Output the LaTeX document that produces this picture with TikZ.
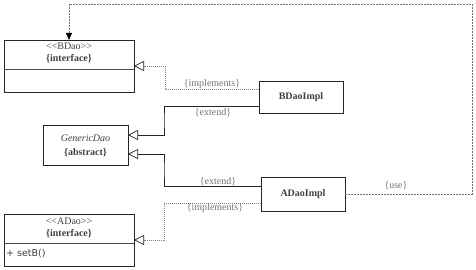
\documentclass[tikz,border=0pt]{standalone}
\usepackage{fontspec}
\setmainfont{Liberation Serif}
\newfontfamily\umlsans{DejaVu Sans}
\usetikzlibrary{arrows.meta}
\begin{document}
\begin{tikzpicture}[x=1pt,y=-1pt,
  classbox/.style={draw=black!85, line width=0.7pt, inner sep=0pt, outer sep=0pt},
  classline/.style={draw=black!70, line width=0.7pt},
  boxtxt/.style={text=black!75, font=\fontsize{10}{12}\selectfont, inner sep=0pt},
  lbl/.style={text=black!55, font=\fontsize{10}{12}\selectfont, inner sep=0pt},
  opentip/.style={-{Triangle[open, length=10pt, width=10pt, color=black!85, fill=white]}},
  realize/.style={opentip, draw=black!50, line width=0.7pt, dash pattern=on 0.8pt off 1.2pt},
  generalize/.style={opentip, draw=black!85, line width=0.7pt},
  usedep/.style={draw=black!55, line width=0.8pt, dash pattern=on 2pt off 1pt, -{Triangle[length=7pt, width=6pt, color=black]}}
]
\useasboundingbox (0,0) rectangle (476,270);

% BDao
\node[classbox, minimum width=130pt, minimum height=52pt] (bdao) at (69,66) {};
\draw[classline] (4,69) -- (134,69);
\node[boxtxt] (bdaost) at (69,46) {<\kern0pt<BDao>\kern0pt>};
\node[boxtxt] (bdaoif) at (69,59) {\textbf{\{interface\}}};

% GenericDao
\node[classbox, minimum width=85pt, minimum height=40pt] (generic) at (85.5,145) {};
\node[boxtxt] (genname) at (85.5,138) {\textit{GenericDao}};
\node[boxtxt] (genabs) at (85.5,153) {\textbf{\{abstract\}}};

% ADao
\node[classbox, minimum width=130pt, minimum height=52pt] (adao) at (69,240) {};
\draw[classline] (4,243) -- (134,243);
\node[boxtxt] (adaost) at (69,221) {<\kern0pt<ADao>\kern0pt>};
\node[boxtxt] (adaoif) at (69,234) {\textbf{\{interface\}}};
\node[boxtxt, anchor=west, font=\umlsans\fontsize{9.5}{11}\selectfont] (setb) at (6,254) {+ setB()};

% Impl classes
\node[classbox, minimum width=84pt, minimum height=32pt] (bdaoimpl) at (301,97) {};
\node[boxtxt] (bdaoimplname) at (301,97) {\textbf{BDaoImpl}};
\node[classbox, minimum width=84pt, minimum height=34pt] (adaoimpl) at (303,194) {};
\node[boxtxt] (adaoimplname) at (303,194) {\textbf{ADaoImpl}};

% bend points
\coordinate (j1) at (165,78);
\coordinate (j2) at (164,120);
\coordinate (j3) at (164,170);
\coordinate (j4) at (164,220);
\coordinate (u1) at (472,4);

% connectors
\draw[realize] ([yshift=8pt]bdaoimpl.west) -| (j1) |- (bdao.east);
\draw[generalize] ([yshift=-9pt]bdaoimpl.west) -| (j2) |- ([yshift=10pt]generic.east);
\draw[generalize] ([yshift=8pt]adaoimpl.west) -| (j3) |- ([yshift=-9pt]generic.east);
\draw[realize] ([yshift=-9pt]adaoimpl.west) -| (j4) |- (adao.east);
\draw[usedep] (adaoimpl.east) -| (u1) -| (bdao.north);

% labels
\node[lbl] (l1) at (212,84) {\{implements\}};
\node[lbl] (l2) at (213,113) {\{extend\}};
\node[lbl] (l3) at (218,182) {\{extend\}};
\node[lbl] (l4) at (215,208) {\{implements\}};
\node[lbl] (l5) at (396,186) {\{use\}};
\end{tikzpicture}
\end{document}
